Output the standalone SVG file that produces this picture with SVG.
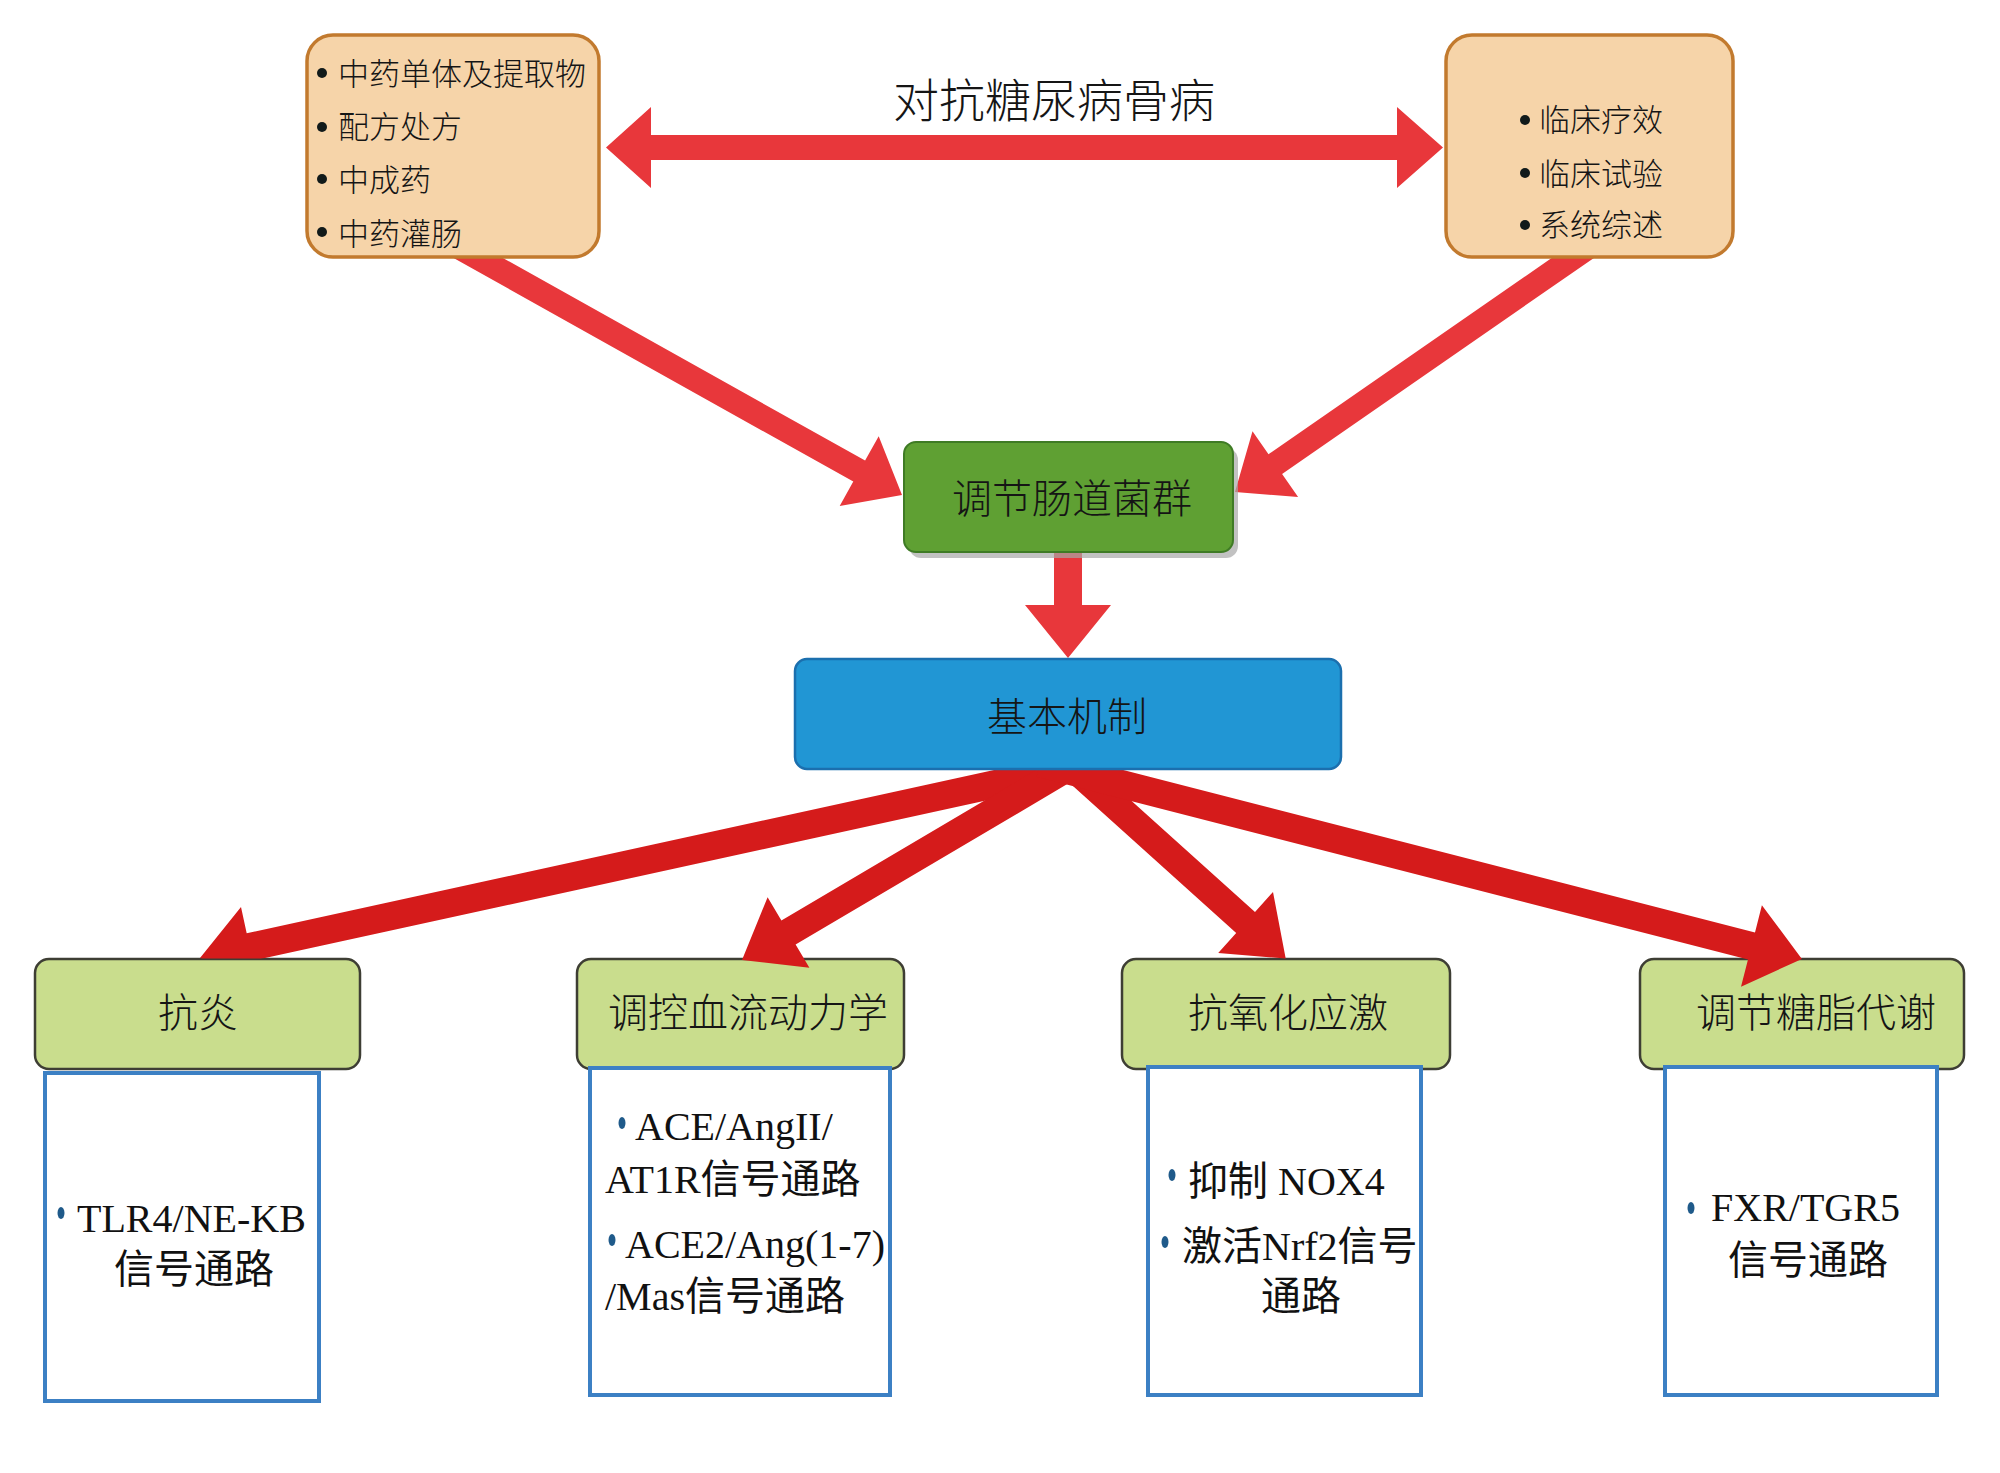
<svg xmlns="http://www.w3.org/2000/svg" width="2000" height="1473" viewBox="0 0 2000 1473">
<style>
.cjk{font-family:"Noto Sans CJK SC","Noto Sans CJK TC",sans-serif;fill:#151515;font-weight:300}
.ser{font-family:"Liberation Serif","Noto Sans CJK SC",serif;fill:#111;font-size:40px}
.tan{fill:#F6D4A9;stroke:#C27A2E;stroke-width:3.5}
.lab{fill:#C9DD8D;stroke:#3E3E34;stroke-width:2.5}
.cont{fill:#FFFFFF;stroke:#3C80C4;stroke-width:4}
.rtop{fill:#E8373B}
.rbot{fill:#D51B1B}
.b1{fill:#111A1A}
.b2{fill:#1F5A8A}
</style>
<defs>
<clipPath id="clipA1"><rect x="0" y="0" width="2000" height="958.5"/></clipPath>
</defs>
<rect width="2000" height="1473" fill="#FFFFFF"/>

<!-- bottom nodes -->
<g id="node-kangyan">
<rect class="lab" x="35" y="959" width="325" height="110" rx="14"/>
<text class="cjk" x="198" y="1027" font-size="40" text-anchor="middle">抗炎</text>
<rect class="cont" x="45" y="1073" width="274" height="328"/>
<ellipse class="b2" cx="61" cy="1213" rx="3.5" ry="6"/>
<text class="ser" x="77" y="1232">TLR4/NE-KB</text>
<text class="ser" x="194" y="1283" text-anchor="middle">信号通路</text>
</g>
<g id="node-xueliu">
<rect class="lab" x="577" y="959" width="327" height="110" rx="14"/>
<text class="cjk" x="748" y="1027" font-size="40" text-anchor="middle">调控血流动力学</text>
<rect class="cont" x="590" y="1068" width="300" height="327"/>
<ellipse class="b2" cx="622" cy="1123" rx="3.5" ry="6"/>
<text class="ser" x="635" y="1140">ACE/AngII/</text>
<text class="ser" x="605" y="1193">AT1R信号通路</text>
<ellipse class="b2" cx="612" cy="1240" rx="3.5" ry="6"/>
<text class="ser" x="625" y="1258">ACE2/Ang(1-7)</text>
<text class="ser" x="605" y="1310">/Mas信号通路</text>
</g>
<g id="node-kangyanghua">
<rect class="lab" x="1122" y="959" width="328" height="110" rx="14"/>
<text class="cjk" x="1288" y="1027" font-size="40" text-anchor="middle">抗氧化应激</text>
<rect class="cont" x="1148" y="1067" width="273" height="328"/>
<ellipse class="b2" cx="1172" cy="1175" rx="3.5" ry="6"/>
<text class="ser" x="1188" y="1195">抑制 NOX4</text>
<ellipse class="b2" cx="1165" cy="1242" rx="3.5" ry="6"/>
<text class="ser" x="1182" y="1260">激活Nrf2信号</text>
<text class="ser" x="1301" y="1310" text-anchor="middle">通路</text>
</g>
<g id="node-tangzhi">
<rect class="lab" x="1640" y="959" width="324" height="110" rx="14"/>
<text class="cjk" x="1816" y="1027" font-size="40" text-anchor="middle">调节糖脂代谢</text>
<rect class="cont" x="1665" y="1067" width="272" height="328"/>
<ellipse class="b2" cx="1691" cy="1208" rx="3.5" ry="6"/>
<text class="ser" x="1711" y="1221">FXR/TGR5</text>
<text class="ser" x="1808" y="1274" text-anchor="middle">信号通路</text>
</g>

<!-- connectors -->
<g id="connectors">
<polygon class="rtop" points="606,147.5 651,107 651,135 1397,135 1397,107 1443,147.5 1397,188 1397,160 651,160 651,188"/>
<text class="cjk" x="1054" y="117" font-size="46" text-anchor="middle">对抗糖尿病骨病</text>
<polygon class="rtop" points="449.1,255.5 853.3,481.6 839.7,506 902,495 878.7,436.2 865.1,460.6 460.9,234.5"/>
<polygon class="rtop" points="1583.2,236.1 1268.5,454.2 1252.5,431.2 1235,492 1298.1,497 1282.1,474 1596.8,255.9"/>
<polygon class="rtop" points="1054,545 1082,545 1082,605 1111,605 1068,658 1025,605 1054,605"/>
<polygon class="rbot" clip-path="url(#clipA1)" points="1077,751.9 246.7,933.3 241,906.9 200,958 258.5,987.1 252.7,960.7 1083,779.3"/>
<polygon class="rbot" points="1064.9,752.9 781.4,920.5 767.6,897.2 742,960 809.4,967.8 795.6,944.6 1079.1,777.1"/>
<polygon class="rbot" points="1083.4,757.6 1255,912.1 1273,892 1285.7,958.6 1218.2,953 1236.2,932.9 1064.6,778.4"/>
<polygon class="rbot" points="1043.5,749.5 1755,932.4 1761.9,905.3 1801.9,958.9 1741,986.7 1748,959.6 1036.5,776.7"/>
</g>

<!-- top nodes -->
<g id="node-zhongyao">
<rect class="tan" x="307" y="35" width="292" height="222" rx="26"/>
<circle class="b1" cx="322" cy="73" r="5"/>
<text class="cjk" x="338" y="85" font-size="31">中药单体及提取物</text>
<circle class="b1" cx="322" cy="127" r="5"/>
<text class="cjk" x="338" y="138" font-size="31">配方处方</text>
<circle class="b1" cx="322" cy="179" r="5"/>
<text class="cjk" x="338" y="191" font-size="31">中成药</text>
<circle class="b1" cx="322" cy="232" r="5"/>
<text class="cjk" x="338" y="245" font-size="31">中药灌肠</text>
</g>
<g id="node-linchuang">
<rect class="tan" x="1446" y="35" width="287" height="222" rx="26"/>
<circle class="b1" cx="1525" cy="120" r="5"/>
<text class="cjk" x="1539" y="131" font-size="31">临床疗效</text>
<circle class="b1" cx="1525" cy="173" r="5"/>
<text class="cjk" x="1539" y="185" font-size="31">临床试验</text>
<circle class="b1" cx="1525" cy="225" r="5"/>
<text class="cjk" x="1539" y="236" font-size="31">系统综述</text>
</g>
<g id="node-changdao">
<rect x="909" y="448" width="329" height="110" rx="12" fill="#A8A8A8" opacity="0.7"/>
<rect x="904" y="442" width="329" height="110" rx="12" fill="#5FA033" stroke="#3F7B25" stroke-width="2"/>
<text class="cjk" x="1072" y="513" font-size="40" text-anchor="middle">调节肠道菌群</text>
</g>
<g id="node-jiben">
<rect x="795" y="659" width="546" height="110" rx="12" fill="#2196D4" stroke="#1B6FAE" stroke-width="2.5"/>
<text class="cjk" x="1067" y="731" font-size="40" text-anchor="middle">基本机制</text>
</g>
</svg>
